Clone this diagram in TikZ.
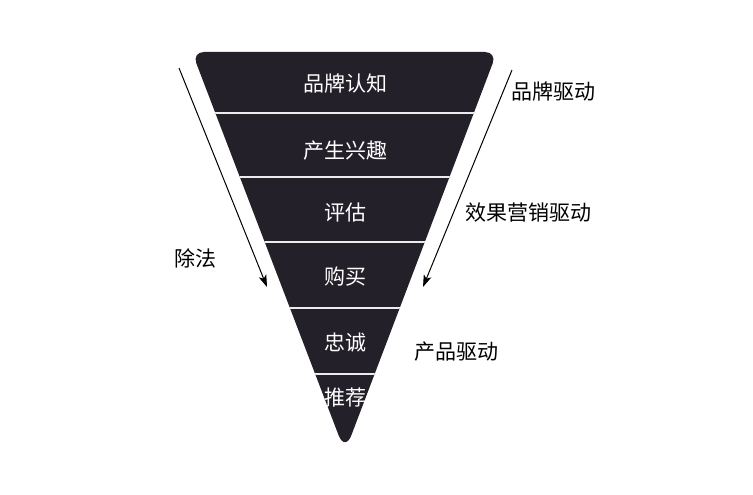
\documentclass[tikz,border=0pt]{standalone}
\usepackage{fontspec}
\setmainfont{Noto Sans CJK SC}
\usetikzlibrary{arrows.meta}
\definecolor{funnelfill}{RGB}{36,32,42}

\begin{document}
\begin{tikzpicture}[
    x=1pt, y=-1pt,
    font=\fontsize{21}{24}\selectfont,
    stage/.style={text=white, inner sep=0pt},
    side/.style={text=black, inner sep=0pt},
    divider/.style={draw=gray!15, line width=1.6pt},
    arr/.style={-{Stealth[length=12pt, width=8pt, inset=3pt]}, line width=1pt},
]
    \useasboundingbox (0,0) rectangle (753,495);

    %==================== FUNNEL ====================
    \fill[funnelfill] (345,52) [rounded corners=12] -- (497,52) [rounded corners=18]
        -- (345,452) [rounded corners=12] -- (192,52) -- cycle;

    % layer dividers
    \begin{scope}
        \clip (192,52) -- (497,52) -- (345,452) -- cycle;
        \foreach \yy in {113,177,242,308,374}
            \draw[divider] (150,\yy) -- (550,\yy);
    \end{scope}

    %==================== STAGES ====================
    \node[stage] (aware) at (345,84) {品牌认知};
    \node[stage] (interest) at (345,151) {产生兴趣};
    \node[stage] (eval) at (345,213) {评估};
    \node[stage] (buy) at (345,277) {购买};
    \node[stage] (loyal) at (345,343) {忠诚};
    \node[stage] (refer) at (345,398) {推荐};

    %==================== SIDE ARROWS ====================
    \coordinate (ltop) at (179,68);
    \coordinate (lend) at (267,287);
    \coordinate (rtop) at (512,70);
    \coordinate (rend) at (423,287);
    \draw[arr] (ltop) -- (lend);
    \draw[arr] (rtop) -- (rend);

    %==================== SIDE LABELS ====================
    \node[side] (brand) at (553,92) {品牌驱动};
    \node[side] (perf) at (528,213) {效果营销驱动};
    \node[side] (minus) at (195,258) {除法};
    \node[side] (product) at (456,352) {产品驱动};

\end{tikzpicture}
\end{document}
